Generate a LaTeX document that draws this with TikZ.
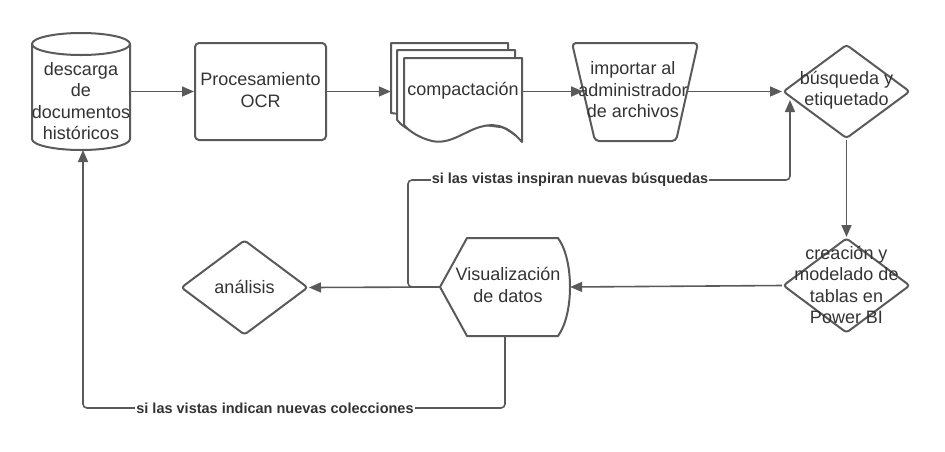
\documentclass[tikz,border=0pt]{standalone}
\usepackage{fontspec}
\setmainfont{Liberation Sans}
\usetikzlibrary{arrows.meta,shapes.geometric}
\definecolor{stroke}{HTML}{5A5A5A}
\definecolor{ink}{HTML}{333333}
\tikzset{
  shapeline/.style={draw=stroke, line width=2pt, line join=round},
  anchorbox/.style={draw=none, inner sep=0pt, rectangle},
  txt/.style={text=ink, align=center, inner sep=0pt, font=\fontsize{18}{21.5}\selectfont},
  conn/.style={draw=stroke, line width=1.6pt, -{Triangle[length=12pt,width=10pt]}},
  lbl/.style={text=ink, fill=white, inner sep=1pt, font=\bfseries\fontsize{14.5}{16}\selectfont},
  dia/.style={diamond, shapeline, inner sep=0pt, rounded corners=3pt},
}
\begin{document}
\begin{tikzpicture}[x=1pt,y=-1pt]
\useasboundingbox (0,0) rectangle (945,451);

% cylinder
\draw[shapeline, fill=white] (32,44) -- (32,139) arc[start angle=180, end angle=0, x radius=49, y radius=11] -- (130,44);
\draw[shapeline] (81,44) ellipse[x radius=49, y radius=11];
\node[anchorbox, minimum width=98pt, minimum height=117pt] (cyl) at (81,91.5) {};
\node[txt] (cylt) at (81,101) {descarga\\de\\documentos\\históricos};

% OCR box
\node[rectangle, shapeline, rounded corners=4pt, minimum width=131pt, minimum height=97pt, inner sep=0pt] (ocr) at (260.5,91.5) {};
\node[txt] (ocrt) at (260.5,90) {Procesamiento\\OCR};

% multi document
\draw[shapeline, fill=white] (391,113) -- (391,43) -- (508,43) -- (508,128) -- cycle;
\draw[shapeline, fill=white] (397,120) -- (397,50) -- (515,50) -- (515,135) .. controls (490,115) and (470,125) .. (445,134) .. controls (425,140) and (405,130) .. (397,120);
\draw[shapeline, fill=white] (404,125) -- (404,58) -- (522,58) -- (522,142)
  .. controls (505,122) and (490,124) .. (480,127) .. controls (465,131) and (450,145) .. (432,141) .. controls (420,138) and (410,132) .. (404,125);
\node[anchorbox, minimum width=131pt, minimum height=99pt] (comp) at (456.5,91.5) {};
\node[txt] (compt) at (463,91) {compactación};

% trapezoid
\draw[shapeline, rounded corners=4pt] (572,43) -- (698,43) -- (676,141) -- (595,141) -- cycle;
\node[anchorbox, minimum width=103.7pt, minimum height=98pt] (trap) at (635.25,91.5) {};
\node[txt] (trapt) at (633,90) {importar al\\administrador\\de archivos};

% diamonds
\node[dia, minimum width=127pt, minimum height=94pt] (d1) at (846.5,91.5) {};
\node[txt] (d1t) at (846.5,90) {búsqueda y\\etiquetado};
\node[dia, minimum width=127pt, minimum height=95pt] (d2) at (846.5,285.5) {};
\node[txt] (d2t) at (846.5,285) {creación y\\modelado de\\tablas en\\Power BI};
\node[dia, minimum width=127pt, minimum height=95pt] (ana) at (244.5,287.5) {};
\node[txt] (anat) at (244.5,287) {análisis};

% display
\draw[shapeline, fill=white] (440,287) -- (467,238) -- (558,238) .. controls (574,260) and (574,314) .. (558,336) -- (467,336) -- cycle;
\node[anchorbox, minimum width=130pt, minimum height=98pt] (disp) at (505,287) {};
\node[txt] (dispt) at (508,285) {Visualización\\de datos};

% connectors
\draw[conn] (cyl.east) -- (ocr.west);
\draw[conn] (ocr.east) -- (comp.west);
\draw[conn] (comp.east) -- (trap.west);
\draw[conn] (trap.east) -- (d1.west);
\draw[conn] (d1.south) -- (d2.north);
\draw[conn] (d2.west) -- (disp.east);
\draw[conn] (disp.west) -- (ana.east);

\coordinate (k1) at (408,287);
\coordinate (k2) at (790,180);
\coordinate (k3) at (790,100);
\draw[conn, rounded corners=4pt] (disp.west) -- (k1) |- (k2) -- (k3);
\node[lbl] (l1) at (570,180) {si las vistas inspiran nuevas búsquedas};

\coordinate (k4) at (83,408);
\coordinate (k5) at (83,150);
\draw[conn, rounded corners=4pt] (disp.south) |- (k4) -- (k5);
\node[lbl] (l2) at (275,408) {si las vistas indican nuevas colecciones};
\end{tikzpicture}
\end{document}
